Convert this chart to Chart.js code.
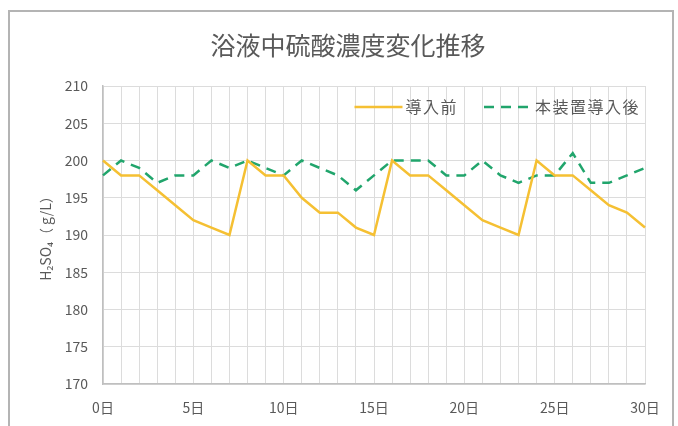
<!DOCTYPE html>
<html>
<head>
<meta charset="utf-8">
<script src="https://cdn.jsdelivr.net/npm/chart.js@4/dist/chart.umd.min.js"></script>
<style>
  html, body { margin: 0; padding: 0; background: #ffffff; }
  #wrap { position: relative; width: 678px; height: 426px; overflow: hidden; }
  #frame { position: absolute; left: 8px; top: 10px; width: 666px; height: 440px; border: 2px solid #b4b4b4; box-sizing: border-box; pointer-events: none; }
  canvas { position: absolute; left: 0; top: 0; }
</style>
</head>
<body>
<div id="wrap">
  <canvas id="c" width="678" height="426"></canvas>
  <div id="frame"></div>
</div>
<script>
const titleText = '浴液中硫酸濃度変化推移';
const yAxisTitle = 'H₂SO₄（ g/L）';
const days = ['0日','1日','2日','3日','4日','5日','6日','7日','8日','9日','10日','11日','12日','13日','14日','15日','16日','17日','18日','19日','20日','21日','22日','23日','24日','25日','26日','27日','28日','29日','30日'];
const seriesNames = ['導入前', '本装置導入後'];
const beforeValues = [200,198,198,196,194,192,191,190,200,198,198,195,193,193,191,190,200,198,198,196,194,192,191,190,200,198,198,196,194,193,191];
const afterValues  = [198,200,199,197,198,198,200,199,200,199,198,200,199,198,196,198,200,200,200,198,198,200,198,197,198,198,201,197,197,198,199];
const yTicks = { min: 170, max: 210, step: 5 };

const FONT = '"Noto Sans CJK JP", "Noto Sans", sans-serif';
const GREY = '#595959';

const legendPlugin = {
  id: 'innerLegend',
  afterDraw(chart) {
    const ctx = chart.ctx;
    const area = chart.chartArea;
    ctx.save();
    ctx.font = '16px ' + FONT;
    if ('letterSpacing' in ctx) ctx.letterSpacing = '1.5px';
    const lineLen = 48, gapText = 3, itemGap = 26;
    const items = chart.data.datasets.map(ds => ({ ds, w: ctx.measureText(ds.label).width }));
    let total = 0;
    items.forEach((it, i) => { total += lineLen + gapText + it.w + (i < items.length - 1 ? itemGap : 0); });
    let x = area.right - 5 - total;
    const y = 107;
    items.forEach(it => {
      ctx.beginPath();
      ctx.strokeStyle = it.ds.borderColor;
      ctx.lineWidth = it.ds.borderWidth;
      ctx.setLineDash(it.ds.borderDash || []);
      ctx.moveTo(x, y);
      ctx.lineTo(x + lineLen, y);
      ctx.stroke();
      ctx.setLineDash([]);
      ctx.fillStyle = GREY;
      ctx.textBaseline = 'middle';
      ctx.textAlign = 'left';
      ctx.fillText(it.ds.label, x + lineLen + gapText, y);
      x += lineLen + gapText + it.w + itemGap;
    });
    ctx.restore();
  }
};

new Chart(document.getElementById('c'), {
  type: 'line',
  data: {
    labels: days,
    datasets: [
      {
        label: seriesNames[0],
        data: beforeValues,
        borderColor: '#F5C033',
        backgroundColor: '#F5C033',
        borderWidth: 2.5,
        pointRadius: 0,
        tension: 0,
        fill: false,
        yAxisID: 'y'
      },
      {
        label: seriesNames[1],
        data: afterValues,
        borderColor: '#21A56C',
        backgroundColor: '#21A56C',
        borderWidth: 2.5,
        borderDash: [10, 7],
        pointRadius: 0,
        tension: 0,
        fill: false,
        yAxisID: 'y'
      }
    ]
  },
  options: {
    responsive: false,
    animation: false,
    layout: { padding: { left: 18, right: 0, top: 0, bottom: 0 } },
    plugins: {
      legend: { display: false },
      tooltip: { enabled: false },
      title: {
        display: true,
        text: titleText,
        color: GREY,
        font: { family: FONT, size: 25, weight: 'normal', lineHeight: 1.2 },
        padding: { top: 30, bottom: 26 }
      }
    },
    scales: {
      x: {
        type: 'category',
        grid: { color: '#dcdcdc', drawTicks: false, lineWidth: 1 },
        border: { color: '#bfbfbf', width: 1.5 },
        ticks: {
          autoSkip: false,
          maxRotation: 0,
          color: GREY,
          font: { family: FONT, size: 14 },
          padding: 15,
          callback: function(v, i) { return i % 5 === 0 ? this.getLabelForValue(v) : ''; }
        },
        afterFit(scale) { scale.height = 42; }
      },
      y: {
        position: 'left',
        min: yTicks.min,
        max: yTicks.max,
        grid: { color: '#dcdcdc', drawTicks: false, lineWidth: 1 },
        border: { color: '#bfbfbf', width: 1.5 },
        ticks: {
          stepSize: yTicks.step,
          color: GREY,
          font: { family: FONT, size: 14 },
          padding: 15
        },
        title: {
          display: true,
          text: yAxisTitle,
          color: GREY,
          font: { family: FONT, size: 14 },
          padding: { top: 19, bottom: 0 }
        },
        afterFit(scale) { scale.width = 85; }
      },
      yRight: {
        position: 'right',
        display: true,
        min: yTicks.min,
        max: yTicks.max,
        grid: { display: false, drawTicks: false },
        border: { display: false },
        ticks: { display: false },
        afterFit(scale) { scale.width = 33; }
      }
    }
  },
  plugins: [legendPlugin]
});
</script>
</body>
</html>
